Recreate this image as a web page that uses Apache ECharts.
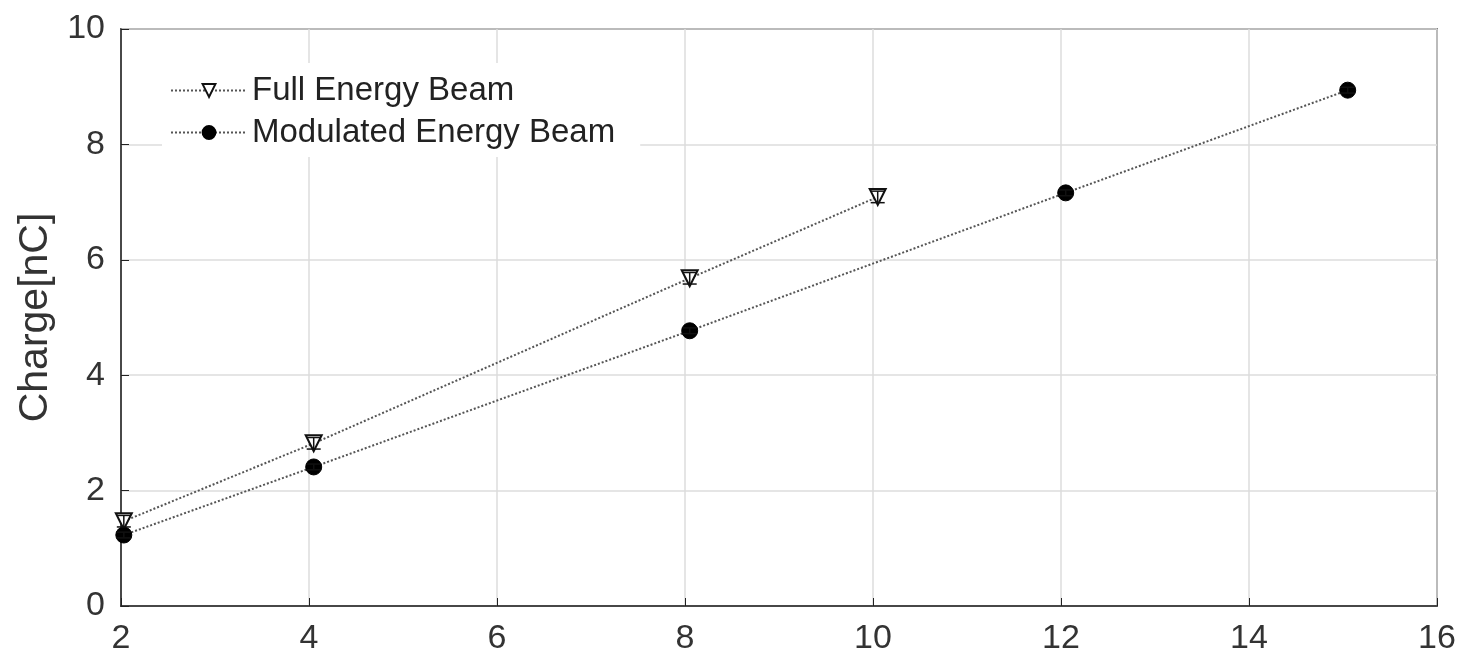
<!DOCTYPE html>
<html>
<head>
<meta charset="utf-8">
<script src="https://cdn.jsdelivr.net/npm/echarts@6/dist/echarts.min.js"></script>
<style>
  html, body { margin: 0; padding: 0; background: #fff; }
  #chart { width: 1463px; height: 658px; }
</style>
</head>
<body>
<div id="chart"></div>
<script>
// data
const fullX = [2.03, 4.05, 8.05, 10.05];
const fullY = [1.47, 2.82, 5.68, 7.09];
const fullErr = [0.1, 0.1, 0.1, 0.1];

const modX = [2.03, 4.05, 8.05, 12.05, 15.05];
const modY = [1.23, 2.41, 4.77, 7.16, 8.94];
const modErr = [0.05, 0.05, 0.05, 0.05, 0.05];

const xTicks = [2, 4, 6, 8, 10, 12, 14, 16];
const yTicks = [0, 2, 4, 6, 8, 10];

const font = 'Liberation Sans, Arial, Helvetica, sans-serif';

function pairs(xs, ys) {
  return xs.map((x, i) => [x, ys[i]]);
}
function errData(xs, ys, es) {
  return xs.map((x, i) => [x, ys[i] - es[i], ys[i] + es[i]]);
}
function errRender(params, api) {
  const x = api.value(0);
  const lo = api.coord([x, api.value(1)]);
  const hi = api.coord([x, api.value(2)]);
  const w = 7;
  const st = { stroke: '#111', lineWidth: 1.5 };
  return {
    type: 'group',
    children: [
      { type: 'line', shape: { x1: lo[0], y1: lo[1], x2: hi[0], y2: hi[1] }, style: st },
      { type: 'line', shape: { x1: lo[0] - w, y1: lo[1], x2: lo[0] + w, y2: lo[1] }, style: st },
      { type: 'line', shape: { x1: hi[0] - w, y1: hi[1], x2: hi[0] + w, y2: hi[1] }, style: st }
    ]
  };
}

const chart = echarts.init(document.getElementById('chart'));
chart.setOption({
  animation: false,
  textStyle: { fontFamily: font },
  grid: {
    left: 121, right: 26, top: 29, bottom: 52,
    show: true, borderColor: '#222', borderWidth: 1.5, backgroundColor: 'transparent'
  },
  legend: {
    left: 162, top: 63,
    orient: 'vertical',
    backgroundColor: '#fff',
    padding: [11, 25, 8, 8],
    itemWidth: 76, itemHeight: 16, itemGap: 9,
    textStyle: { fontSize: 33, color: '#222', fontFamily: font },
    data: ['Full Energy Beam', 'Modulated Energy Beam']
  },
  xAxis: {
    type: 'value', min: 2, max: 16, interval: 2,
    axisLine: { lineStyle: { color: '#222', width: 1.5 } },
    axisTick: { inside: true, length: 8, lineStyle: { color: '#222' } },
    axisLabel: { fontSize: 34, color: '#333', margin: 16,
      formatter: v => xTicks.includes(v) ? String(v) : '' },
    splitLine: { show: true, lineStyle: { color: '#dcdcdc', width: 1.5 } }
  },
  yAxis: {
    type: 'value', min: 0, max: 10, interval: 2,
    name: 'Charge[nC]', nameLocation: 'middle', nameGap: 62, nameRotate: 90,
    nameTextStyle: { fontSize: 41, color: '#333', fontFamily: font },
    axisLine: { lineStyle: { color: '#222', width: 1.5 } },
    axisTick: { inside: true, length: 8, lineStyle: { color: '#222' } },
    axisLabel: { fontSize: 34, color: '#333', margin: 16,
      formatter: v => yTicks.includes(v) ? String(v) : '' },
    splitLine: { show: true, lineStyle: { color: '#dcdcdc', width: 1.5 } }
  },
  series: [
    {
      name: 'Full Energy Beam', type: 'line',
      data: pairs(fullX, fullY),
      symbol: 'triangle', symbolRotate: 180, symbolSize: 16,
      itemStyle: { color: '#fff', borderColor: '#111', borderWidth: 2 },
      lineStyle: { type: 'dotted', color: '#555', width: 2 },
      z: 3
    },
    {
      name: 'Modulated Energy Beam', type: 'line',
      data: pairs(modX, modY),
      symbol: 'circle', symbolSize: 16,
      itemStyle: { color: '#000', borderColor: '#000', borderWidth: 1 },
      lineStyle: { type: 'dotted', color: '#555', width: 2 },
      z: 3
    },
    {
      name: 'fullErr', type: 'custom',
      data: errData(fullX, fullY, fullErr),
      renderItem: errRender, z: 4, silent: true
    },
    {
      name: 'modErr', type: 'custom',
      data: errData(modX, modY, modErr),
      renderItem: errRender, z: 4, silent: true
    }
  ]
});
</script>
</body>
</html>
